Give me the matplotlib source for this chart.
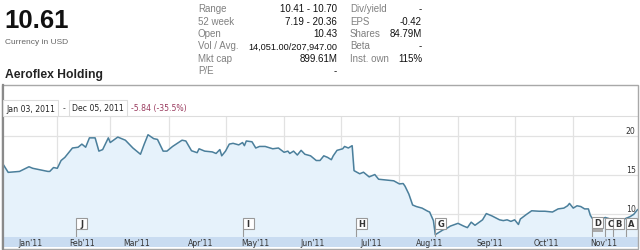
import matplotlib
matplotlib.use("Agg")
import matplotlib.pyplot as plt
import matplotlib.patches as patches
import matplotlib.transforms as transforms
from datetime import datetime

W, H = 640, 251

# prix de cloture
jours = ["01-03", "01-06", "01-12", "01-17", "01-19", "01-27", "01-28", "01-30",
         "02-01", "02-03", "02-05", "02-09", "02-12", "02-14", "02-16", "02-18",
         "02-21", "02-23", "02-25", "02-28", "03-01", "03-05", "03-09", "03-13",
         "03-17", "03-19", "03-21", "03-24", "03-26", "03-29", "03-31", "04-03",
         "04-08", "04-10", "04-13", "04-16", "04-17", "04-20", "04-24", "04-26",
         "04-28", "04-29", "05-01", "05-03", "05-05", "05-08", "05-10", "05-11",
         "05-12", "05-15", "05-17", "05-19", "05-22", "05-26", "05-29", "06-01",
         "06-03", "06-04", "06-06", "06-08", "06-10", "06-12", "06-15", "06-18",
         "06-20", "06-22", "06-24", "06-26", "06-27", "06-29", "07-02", "07-03",
         "07-05", "07-07", "07-08", "07-11", "07-13", "07-16", "07-19", "07-21",
         "07-25", "07-29", "08-01", "08-03", "08-04", "08-06", "08-08", "08-10",
         "08-13", "08-16", "08-17", "08-19", "08-20", "08-22", "08-24", "08-26",
         "08-28", "09-01", "09-04", "09-06", "09-08", "09-10", "09-14", "09-16",
         "09-19", "09-23", "09-25", "09-27", "09-29", "10-01", "10-03", "10-04",
         "10-07", "10-10", "10-14", "10-17", "10-21", "10-24", "10-27", "10-29",
         "10-30", "11-01", "11-03", "11-05", "11-07", "11-09", "11-10", "11-11",
         "11-15", "11-18", "11-22", "11-25", "11-29", "12-01", "12-03", "12-05"]
prix = [16.44, 15.28, 15.4, 16.0, 15.8, 15.4, 15.4, 15.9,
        15.8, 16.8, 17.2, 18.4, 18.5, 18.9, 18.5, 19.7,
        19.7, 18.0, 18.2, 19.7, 19.1, 19.8, 19.4, 18.4,
        17.6, 18.9, 20.1, 19.6, 19.5, 18.0, 18.0, 18.6,
        19.4, 19.3, 18.05, 17.8, 18.3, 18.0, 17.9, 17.7,
        18.2, 17.4, 18.0, 18.9, 19.0, 18.8, 19.1, 18.7,
        19.3, 19.2, 18.4, 18.6, 18.6, 18.3, 18.4, 17.85,
        18.0, 17.7, 18.0, 17.5, 18.1, 17.6, 17.4, 16.8,
        16.8, 17.4, 17.2, 16.9, 17.4, 18.1, 18.3, 18.6,
        18.4, 18.7, 15.5, 15.1, 15.3, 14.7, 15.0, 14.4,
        14.3, 14.2, 13.8, 13.85, 13.5, 12.5, 11.1, 10.9,
        10.7, 10.3, 10.2, 9.1, 7.3, 7.6, 7.9, 8.1,
        8.4, 8.75, 8.4, 8.2, 8.9, 8.5, 9.2, 10.0,
        9.7, 9.2, 9.1, 9.2, 9.0, 9.2, 8.6, 9.3,
        9.85, 10.36, 10.3, 10.3, 10.2, 10.6, 10.7, 11.0,
        11.3, 10.7, 11.0, 10.9, 10.6, 10.6, 9.8, 9.4,
        9.3, 9.5, 9.2, 9.0, 9.4, 9.6, 9.9, 10.5]

mois = ["Jan'11", "Feb'11", "Mar'11", "Apr'11", "May'11", "Jun'11",
        "Jul'11", "Aug'11", "Sep'11", "Oct'11", "Nov'11"]
jourEtiquette = [18, 14, 15, 18, 17, 16, 17, 17, 18, 18, 17]
niveaux = [10, 15, 20]

drapeaux = ["J", "I", "H", "G", "D", "C", "B", "A"]
joursDrapeaux = ["02-11", "05-10", "07-09", "08-20", "11-11", "11-18", "11-22", "11-29"]

entete = [("Range", "10.41 - 10.70"), ("52 week", "7.19 - 20.36"), ("Open", "10.43"),
          ("Vol / Avg.", "14,051.00/207,947.00"), ("Mkt cap", "899.61M"), ("P/E", "-")]
entete2 = [("Div/yield", "-"), ("EPS", "-0.42"), ("Shares", "84.79M"),
           ("Beta", "-"), ("Inst. own", "115%")]


def date(j):
    return datetime.strptime("2011-" + j, "%Y-%m-%d")


def fx(x):
    return x / W


def fy(y):
    return 1 - y / H


dates = [date(j) for j in jours]

fig = plt.figure(figsize=(W / 100, H / 100), dpi=100)
fig.patch.set_facecolor("white")

# entete
fig.text(fx(4), fy(28.5), "10.61", fontsize=18.5, weight="bold", family="Liberation Sans", color="#111")
fig.text(fx(5), fy(44), "Currency in USD", fontsize=6, family="Liberation Sans", color="#666")
fig.text(fx(5), fy(78.5), "Aeroflex Holding", fontsize=8.7, weight="bold", family="Liberation Sans", color="#222")

for i, (lab, val) in enumerate(entete):
    yb = 12.5 + i * 12.3
    fig.text(fx(198), fy(yb), lab, fontsize=7, family="Liberation Sans", color="#808080")
    taille = 6.6 if lab.startswith("Vol") else 7
    fig.text(fx(337), fy(yb), val, fontsize=taille, family="Liberation Sans", color="#111", ha="right")
for i, (lab, val) in enumerate(entete2):
    yb = 12.5 + i * 12.3
    fig.text(fx(350), fy(yb), lab, fontsize=7, family="Liberation Sans", color="#808080")
    fig.text(fx(422), fy(yb), val, fontsize=7, family="Liberation Sans", color="#111", ha="right")

# cadre
fig.patches.append(patches.Rectangle((fx(2), fy(250)), 636 / W, 164 / H, transform=fig.transFigure,
                                     fill=False, ec="#a8a8a8", lw=1))
fig.lines.append(plt.Line2D([fx(2.5), fx(2.5)], [fy(86), fy(250)], transform=fig.transFigure,
                            color="#8a8a8a", lw=1.6))

# barre des dates
boite = dict(boxstyle="square,pad=0.4", fc="white", ec="#dddddd", lw=0.8)
fig.text(fx(6), fy(111.5), "Jan 03, 2011", fontsize=5.6, color="#222", bbox=boite)
fig.text(fx(63), fy(111.5), "-", fontsize=5.6, color="#444")
fig.text(fx(72), fy(111.5), "Dec 05, 2011", fontsize=5.6, color="#222", bbox=boite)
fig.text(fx(131), fy(111.5), "-5.84 (-35.5%)", fontsize=5.6, color="#9a3a5e")

# graphe principal
ax = fig.add_axes([fx(2.5), fy(238), 635 / W, 121 / H])
ax.set_xlim(datetime(2011, 1, 3), datetime(2011, 12, 5))
ax.set_ylim(7.0, 22.5)
ax.set_xticks([])
ax.set_yticks([])
for s in ["left", "right", "bottom"]:
    ax.spines[s].set_visible(False)
ax.spines["top"].set_color("#dddddd")

mixte = transforms.blended_transform_factory(ax.transData, ax.transAxes)
for m in range(2, 12):
    d = datetime(2011, m, 1)
    ax.axvline(d, color="#e2e2e2", lw=0.9, zorder=0)
    ax.plot([d, d], [0, 0.04], transform=mixte, color="#999999", lw=0.8, zorder=1)
for n in niveaux:
    ax.axhline(n, color="#e2e2e2", lw=0.9, zorder=0)
    ax.text(0.997, n + 0.1, str(n), transform=transforms.blended_transform_factory(ax.transAxes, ax.transData),
            ha="right", va="bottom", fontsize=5.6, color="#333", zorder=5)

ax.fill_between(dates, prix, 7.0, color="#e6f2fb", zorder=1)
ax.plot(dates, prix, color="#4b7f9b", lw=1.1, zorder=2)

# drapeaux
larg = 11 / 1.89
for lettre, j in zip(drapeaux, joursDrapeaux):
    d = date(j)
    x0 = matplotlib.dates.date2num(d)
    y0 = 8 / 121
    if lettre == "D":
        y0 = 9.5 / 121
        ax.add_patch(patches.Rectangle((x0, 5 / 121), larg, y0 - 5 / 121, transform=mixte,
                                       fc="#aaaaaa", ec="none", zorder=6))
    ax.plot([x0, x0], [0, y0], transform=mixte, color="#999999", lw=0.8, zorder=6)
    ax.add_patch(patches.Rectangle((x0, y0), larg, 11 / 121, transform=mixte,
                                   fc="white", ec="#999999", lw=0.8, zorder=6))
    ax.text(x0 + larg / 2, y0 + 5.5 / 121, lettre, transform=mixte, ha="center", va="center",
            fontsize=6, weight="bold", color="#333", zorder=7)

# axe des mois
bax = fig.add_axes([fx(2.5), fy(248), 635 / W, 10 / H])
bax.set_facecolor("#c9dcf1")
bax.set_xlim(datetime(2011, 1, 3), datetime(2011, 12, 5))
bax.set_ylim(0, 1)
bax.set_xticks([])
bax.set_yticks([])
for s in bax.spines.values():
    s.set_visible(False)
for i, lab in enumerate(mois):
    bax.text(datetime(2011, i + 1, jourEtiquette[i]), 0.45, lab, ha="center", va="center",
             fontsize=5.6, color="#333")

plt.savefig("out.png", dpi=100)
